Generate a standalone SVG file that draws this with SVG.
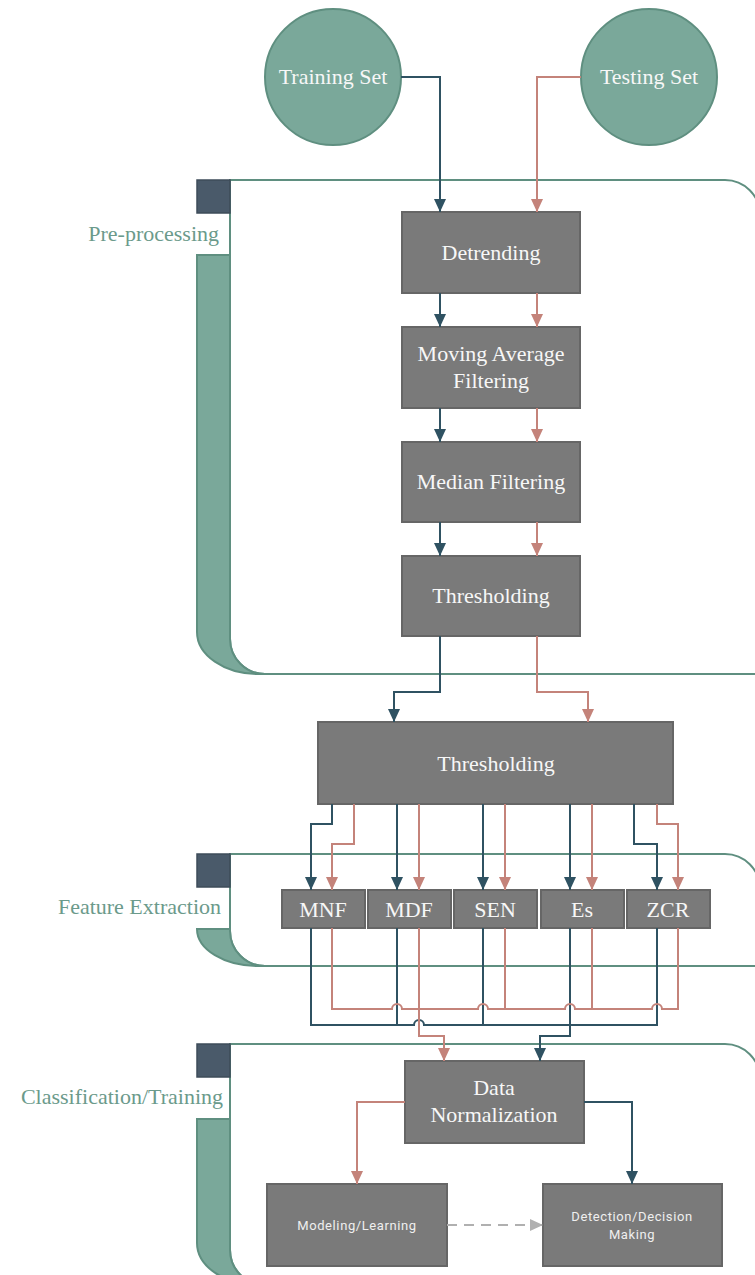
<svg xmlns="http://www.w3.org/2000/svg" width="755" height="1275" viewBox="0 0 755 1275">
<style>
.panel{fill:#ffffff;stroke:#5f8f80;stroke-width:2}
.bar{fill:#7aa89a;stroke:#5f8f80;stroke-width:2}
.sq{fill:#4a5a6a;stroke:#3e4c59;stroke-width:1.5}
.plabel{font-family:"Liberation Serif",serif;font-size:22px;fill:#6b9a8b;text-anchor:end}
.circ{fill:#7aa89a;stroke:#5f8f80;stroke-width:2}
.box{fill:#7a7a7a;stroke:#666666;stroke-width:2}
.t{font-family:"Liberation Serif",serif;font-size:22px;fill:#f7f7f7;text-anchor:middle}
.ts{font-family:"Roboto","Liberation Sans",sans-serif;font-size:13px;fill:#efefef;text-anchor:middle;letter-spacing:0.6px}
.dk{fill:none;stroke:#2f5262;stroke-width:2}
.rd{fill:none;stroke:#c4837a;stroke-width:2}
.gy{fill:none;stroke:#b0b0b0;stroke-width:2;stroke-dasharray:10 7}
</style>
<defs>
<marker id="ad" markerUnits="userSpaceOnUse" markerWidth="14" markerHeight="14" viewBox="0 0 14 14" refX="13" refY="7" orient="auto"><path d="M0,1 L13,7 L0,13 Z" fill="#2f5262"/></marker>
<marker id="ar" markerUnits="userSpaceOnUse" markerWidth="14" markerHeight="14" viewBox="0 0 14 14" refX="13" refY="7" orient="auto"><path d="M0,1 L13,7 L0,13 Z" fill="#c4837a"/></marker>
<marker id="ag" markerUnits="userSpaceOnUse" markerWidth="14" markerHeight="14" viewBox="0 0 14 14" refX="13" refY="7" orient="auto"><path d="M0,1 L13,7 L0,13 Z" fill="#b0b0b0"/></marker>
</defs>

<!-- Panels -->
<g id="panel-preprocessing">
<path class="panel" d="M230,180 H725 A35,35 0 0 1 760,215 V674 H265 A35,35 0 0 1 230,639 Z"/>
<path class="bar" d="M197,255 H230 V639 A35,35 0 0 0 265,674 H258 A61,42 0 0 1 197,632 Z"/>
<rect class="sq" x="197" y="180" width="33" height="33"/>
<text class="plabel" x="219" y="241">Pre-processing</text>
</g>
<g id="panel-feature">
<path class="panel" d="M230,854 H725 A35,35 0 0 1 760,889 V966 H265 A35,35 0 0 1 230,931 Z"/>
<path class="bar" d="M197,929 H230 V931 A35,35 0 0 0 265,966 H258 A61,37 0 0 1 197,929 Z"/>
<rect class="sq" x="197" y="854" width="33" height="33"/>
<text class="plabel" x="221" y="914">Feature Extraction</text>
</g>
<g id="panel-classification">
<path class="panel" d="M230,1044 H725 A35,35 0 0 1 760,1079 V1285 H265 A35,35 0 0 1 230,1250 Z"/>
<path class="bar" d="M197,1119 H230 V1250 A35,35 0 0 0 265,1285 H258 A61,42 0 0 1 197,1243 Z"/>
<rect class="sq" x="197" y="1044" width="33" height="33"/>
<text class="plabel" x="223" y="1104">Classification/Training</text>
</g>

<!-- Nodes -->
<g id="training-set"><circle class="circ" cx="333" cy="77" r="68"/><text class="t" x="333" y="84">Training Set</text></g>
<g id="testing-set"><circle class="circ" cx="649" cy="77" r="68"/><text class="t" x="649" y="84">Testing Set</text></g>
<g id="detrending"><rect class="box" x="402" y="212" width="178" height="81"/><text class="t" x="491" y="260">Detrending</text></g>
<g id="moving-average"><rect class="box" x="402" y="327" width="178" height="81"/><text class="t" x="491" y="361">Moving Average</text><text class="t" x="491" y="388">Filtering</text></g>
<g id="median-filtering"><rect class="box" x="402" y="442" width="178" height="80"/><text class="t" x="491" y="489">Median Filtering</text></g>
<g id="thresholding-1"><rect class="box" x="402" y="556" width="178" height="80"/><text class="t" x="491" y="603">Thresholding</text></g>
<g id="thresholding-2"><rect class="box" x="318" y="722" width="355" height="82"/><text class="t" x="496" y="771">Thresholding</text></g>
<g id="mnf"><rect class="box" x="282" y="890" width="83" height="38"/><text class="t" x="323" y="917">MNF</text></g>
<g id="mdf"><rect class="box" x="368" y="890" width="83" height="38"/><text class="t" x="409" y="917">MDF</text></g>
<g id="sen"><rect class="box" x="454" y="890" width="83" height="38"/><text class="t" x="495" y="917">SEN</text></g>
<g id="es"><rect class="box" x="541" y="890" width="83" height="38"/><text class="t" x="582" y="917">Es</text></g>
<g id="zcr"><rect class="box" x="627" y="890" width="83" height="38"/><text class="t" x="668" y="917">ZCR</text></g>
<g id="data-normalization"><rect class="box" x="405" y="1061" width="179" height="82"/><text class="t" x="494" y="1095">Data</text><text class="t" x="494" y="1122">Normalization</text></g>
<g id="modeling"><rect class="box" x="267" y="1184" width="180" height="82"/><text class="ts" x="357" y="1230">Modeling/Learning</text></g>
<g id="detection"><rect class="box" x="543" y="1184" width="179" height="82"/><text class="ts" x="632" y="1221">Detection/Decision</text><text class="ts" x="632" y="1239">Making</text></g>

<!-- Connectors -->
<g id="connectors">
<path class="dk" d="M401,77 H440 V212" marker-end="url(#ad)"/>
<path class="rd" d="M581,77 H537 V212" marker-end="url(#ar)"/>
<path class="dk" d="M440,293 V327" marker-end="url(#ad)"/>
<path class="rd" d="M537,293 V327" marker-end="url(#ar)"/>
<path class="dk" d="M440,408 V442" marker-end="url(#ad)"/>
<path class="rd" d="M537,408 V442" marker-end="url(#ar)"/>
<path class="dk" d="M440,522 V556" marker-end="url(#ad)"/>
<path class="rd" d="M537,522 V556" marker-end="url(#ar)"/>
<path class="dk" d="M440,636 V692 H394 V722" marker-end="url(#ad)"/>
<path class="rd" d="M537,636 V692 H588 V722" marker-end="url(#ar)"/>

<path class="dk" d="M332,804 V824 H311 V890" marker-end="url(#ad)"/>
<path class="rd" d="M354,804 V844 H332 V890" marker-end="url(#ar)"/>
<path class="dk" d="M397,804 V890" marker-end="url(#ad)"/>
<path class="rd" d="M419,804 V890" marker-end="url(#ar)"/>
<path class="dk" d="M483,804 V890" marker-end="url(#ad)"/>
<path class="rd" d="M505,804 V890" marker-end="url(#ar)"/>
<path class="dk" d="M570,804 V890" marker-end="url(#ad)"/>
<path class="rd" d="M592,804 V890" marker-end="url(#ar)"/>
<path class="dk" d="M634,804 V844 H657 V890" marker-end="url(#ad)"/>
<path class="rd" d="M657,804 V824 H678 V890" marker-end="url(#ar)"/>

<path class="dk" d="M311,928 V1025 H414 A5,5 0 0 1 424,1025 H657 V928"/>
<path class="dk" d="M397,928 V1025"/>
<path class="dk" d="M483,928 V1025"/>
<path class="dk" d="M570,928 V1036 H540 V1061" marker-end="url(#ad)"/>
<path class="rd" d="M332,928 V1009 H392 A5,5 0 0 1 402,1009 H478 A5,5 0 0 1 488,1009 H565 A5,5 0 0 1 575,1009 H652 A5,5 0 0 1 662,1009 H678 V928"/>
<path class="rd" d="M505,928 V1009"/>
<path class="rd" d="M592,928 V1009"/>
<path class="rd" d="M419,928 V1036 H444 V1061" marker-end="url(#ar)"/>

<path class="rd" d="M405,1102 H357 V1184" marker-end="url(#ar)"/>
<path class="dk" d="M584,1102 H632 V1184" marker-end="url(#ad)"/>
<path class="gy" d="M447,1225 H543" marker-end="url(#ag)"/>
</g>
</svg>
